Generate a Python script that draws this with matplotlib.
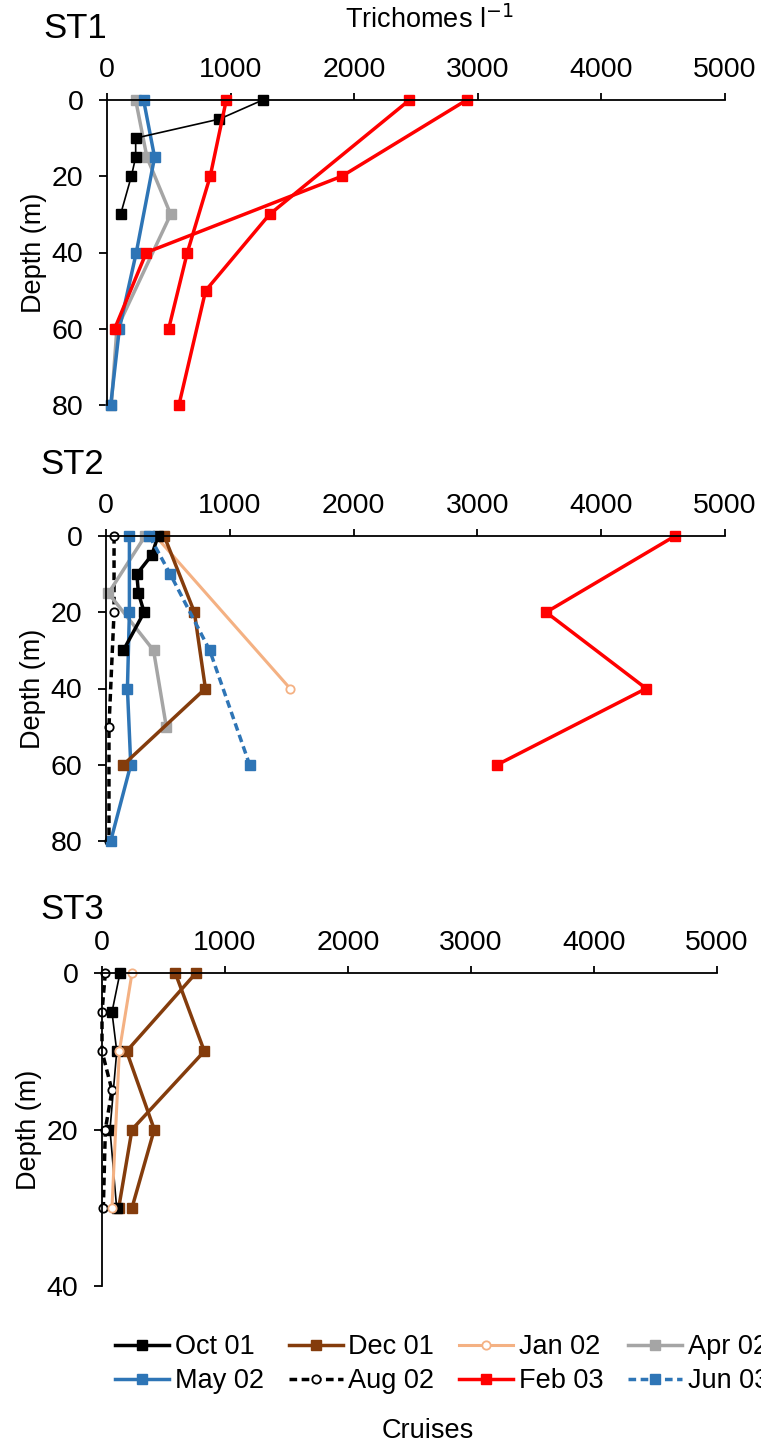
import matplotlib
matplotlib.use("Agg")
import matplotlib.pyplot as plt
from matplotlib.lines import Line2D

plt.rcParams['font.family'] = ['Liberation Sans', 'DejaVu Sans']

# ---------------- data ----------------
x_ticks = [0, 1000, 2000, 3000, 4000, 5000]
cruises = ["Oct 01", "Dec 01", "Jan 02", "Apr 02", "May 02", "Aug 02", "Feb 03", "Jun 03"]

# ST1
st1_oct_depth = [0, 5, 10, 15, 20, 30]
st1_oct = [1260, 910, 232, 232, 197, 110]
st1_apr_depth = [0, 15, 30, 60, 80]
st1_apr = [232, 323, 515, 80, 35]
st1_may_depth = [0, 15, 40, 60, 80]
st1_may = [296, 385, 237, 100, 30]
st1_feb_a_depth = [0, 20, 40, 60]
st1_feb_a = [965, 835, 650, 499]
st1_feb_b_depth = [0, 30, 50, 80]
st1_feb_b = [2447, 1315, 798, 582]
st1_feb_c_depth = [0, 20, 40, 60]
st1_feb_c = [2910, 1900, 318, 62]

# ST2
st2_oct_depth = [0, 5, 10, 15, 20, 30]
st2_oct = [420, 370, 249, 262, 308, 140]
st2_dec_depth = [0, 20, 40, 60]
st2_dec = [470, 714, 803, 141]
st2_jan_depth = [0, 40]
st2_jan = [400, 1487]
st2_apr_depth = [0, 15, 30, 50]
st2_apr = [316, 20, 384, 487]
st2_may_depth = [0, 20, 40, 60, 80]
st2_may = [189, 189, 173, 200, 38]
st2_aug_depth = [0, 20, 50, 80]
st2_aug = [65, 65, 24, 24]
st2_feb_depth = [0, 20, 40, 60]
st2_feb = [4596, 3555, 4363, 3160]
st2_jun_depth = [0, 10, 30, 60]
st2_jun = [351, 519, 838, 1160]

# ST3
st3_oct_depth = [0, 5, 10, 20, 30]
st3_oct = [146, 81, 120, 65, 119]
st3_aug_depth = [0, 5, 10, 15, 20, 30]
st3_aug = [27, 0, 0, 81, 27, 11]
st3_jan_depth = [0, 10, 30]
st3_jan = [244, 141, 81]
st3_dec_a_depth = [0, 10, 20, 30]
st3_dec_a = [596, 832, 244, 136]
st3_dec_b_depth = [0, 10, 20, 30]
st3_dec_b = [764, 200, 425, 244]

# ---------------- styles ----------------
BROWN = '#843C0C'
LORANGE = '#F4B183'
GRAY = '#A5A5A5'
BLUE = '#2E75B6'
RED = '#FF0000'

styles = {
    "Oct 01": dict(color='black', marker='s', ls='-', lw=2.5, ms=6.5, mfc='black'),
    "Dec 01": dict(color=BROWN, marker='s', ls='-', lw=2.5, ms=6.5, mfc=BROWN),
    "Jan 02": dict(color=LORANGE, marker='o', ls='-', lw=2.2, ms=6, mfc='white', mew=1.3),
    "Apr 02": dict(color=GRAY, marker='s', ls='-', lw=2.5, ms=6.5, mfc=GRAY),
    "May 02": dict(color=BLUE, marker='s', ls='-', lw=2.5, ms=6.5, mfc=BLUE),
    "Aug 02": dict(color='black', marker='o', ls=(0, (2.2, 1.3)), lw=2.5, ms=6, mfc='white', mew=1.3),
    "Feb 03": dict(color=RED, marker='s', ls='-', lw=2.5, ms=6.5, mfc=RED),
    "Jun 03": dict(color=BLUE, marker='s', ls=(0, (2.2, 1.3)), lw=2.5, ms=6.5, mfc=BLUE),
}

FS = 19.5
TFS = 20.5
W, H = 761, 1448
fig = plt.figure(figsize=(W / 100, H / 100), dpi=100)


def make_ax(left, right, top, bottom, ymax, yticks):
    ax = fig.add_axes([left / W, 1 - bottom / H, (right - left) / W, (bottom - top) / H])
    ax.set_xlim(0, 5000)
    ax.set_ylim(ymax, 0)
    ax.spines['bottom'].set_visible(False)
    ax.spines['right'].set_visible(False)
    ax.spines['top'].set_linewidth(1.3)
    ax.spines['left'].set_linewidth(1.3)
    ax.xaxis.tick_top()
    ax.set_xticks(x_ticks)
    ax.set_yticks(yticks)
    ax.tick_params(axis='x', direction='out', length=5, width=1.3, labelsize=TFS, pad=7)
    ax.tick_params(axis='y', direction='out', length=5.5, width=1.3, labelsize=TFS, pad=11.5)
    ax.set_ylabel("Depth (m)", fontsize=FS, labelpad=3)
    ax.patch.set_alpha(0)
    return ax


def plot(ax, x, d, name, **over):
    st = dict(styles[name])
    st.update(over)
    ax.plot(x, d, clip_on=False, **st)


# ST1
ax1 = make_ax(107, 725, 100, 405, 80, [0, 20, 40, 60, 80])
plot(ax1, st1_apr, st1_apr_depth, "Apr 02")
plot(ax1, st1_may, st1_may_depth, "May 02")
plot(ax1, st1_oct, st1_oct_depth, "Oct 01", lw=1.2)
plot(ax1, st1_feb_a, st1_feb_a_depth, "Feb 03")
plot(ax1, st1_feb_b, st1_feb_b_depth, "Feb 03")
plot(ax1, st1_feb_c, st1_feb_c_depth, "Feb 03")
fig.text(43 / W, 1 - 28 / H, "ST1", fontsize=25, va='center', ha='left')
fig.text(429 / W, 1 - 20 / H, "Trichomes l$^{-1}$", fontsize=FS, va='center', ha='center')

# ST2
ax2 = make_ax(106, 725, 536, 841, 80, [0, 20, 40, 60, 80])
plot(ax2, st2_aug, st2_aug_depth, "Aug 02")
plot(ax2, st2_apr, st2_apr_depth, "Apr 02")
plot(ax2, st2_may, st2_may_depth, "May 02")
plot(ax2, st2_jan, st2_jan_depth, "Jan 02")
plot(ax2, st2_dec, st2_dec_depth, "Dec 01")
plot(ax2, st2_oct, st2_oct_depth, "Oct 01")
plot(ax2, st2_jun, st2_jun_depth, "Jun 03")
plot(ax2, st2_feb, st2_feb_depth, "Feb 03")
fig.text(40 / W, 1 - 464 / H, "ST2", fontsize=25, va='center', ha='left')

# ST3
ax3 = make_ax(102, 717, 973, 1286, 40, [0, 20, 40])
plot(ax3, st3_dec_a, st3_dec_a_depth, "Dec 01")
plot(ax3, st3_dec_b, st3_dec_b_depth, "Dec 01")
plot(ax3, st3_oct, st3_oct_depth, "Oct 01", lw=1.2)
plot(ax3, st3_aug, st3_aug_depth, "Aug 02")
plot(ax3, st3_jan, st3_jan_depth, "Jan 02")
fig.text(40 / W, 1 - 909 / H, "ST3", fontsize=25, va='center', ha='left')

# legend (column-wise fill order)
order = ["Oct 01", "May 02", "Dec 01", "Aug 02", "Jan 02", "Feb 03", "Apr 02", "Jun 03"]
handles = []
for nm in order:
    st = dict(styles[nm])
    handles.append(Line2D([], [], label=nm, **st))
fig.legend(handles=handles, loc='upper left', bbox_to_anchor=(115 / W, 1 - 1334 / H),
           ncol=4, frameon=False, fontsize=FS, handlelength=2.0, handletextpad=0.2,
           columnspacing=0.92, labelspacing=0.3, borderpad=0, borderaxespad=0)
fig.text(428 / W, 1 - 1431 / H, "Cruises", fontsize=FS, va='center', ha='center')

fig.savefig("out.png", dpi=100)
